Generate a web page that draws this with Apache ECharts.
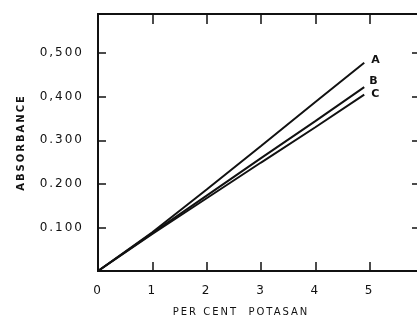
<!DOCTYPE html>
<html lang="en">
<head>
<meta charset="UTF-8">
<title>Absorbance vs Per Cent Potasan</title>
<script src="https://cdn.jsdelivr.net/npm/echarts@6/dist/echarts.min.js"></script>
<style>
    html, body { margin: 0; padding: 0; background: #fff; }
    #chart { width: 417px; height: 323px; }
</style>
</head>
<body>
<div id="chart"></div>
<script>
    // data
    const xValues = [0, 1, 2, 3, 4, 4.9];
    const curveA = [0, 0.089, 0.187, 0.287, 0.388, 0.478];
    const curveB = [0, 0.087, 0.173, 0.259, 0.344, 0.422];
    const curveC = [0, 0.085, 0.167, 0.249, 0.330, 0.405];
    const seriesNames = ['A', 'B', 'C'];

    const xTickValues = [0, 1, 2, 3, 4, 5];
    const xTickLabels = ['0', '1', '2', '3', '4', '5'];
    const yTickValues = [0.1, 0.2, 0.3, 0.4, 0.5];
    const yTickLabels = ['0.100', '0.200', '0.300', '0,400', '0,500'];

    // the lettering on the original is widely spaced; canvas can do that itself
    const origFillText = CanvasRenderingContext2D.prototype.fillText;
    CanvasRenderingContext2D.prototype.fillText = function () {
        this.letterSpacing = '2px';
        return origFillText.apply(this, arguments);
    };

    function pickLabel(values, labels, v) {
        const i = values.findIndex((t) => Math.abs(t - v) < 1e-6);
        return i < 0 ? '' : labels[i];
    }

    function pairs(ys) {
        return xValues.map((x, i) => [x, ys[i]]);
    }

    const ink = '#111';
    const font = 'DejaVu Sans';
    const xMax = 6;
    const yMax = 0.59;
    const plotW = 326;
    const plotH = 257;

    /**
     * Top / right frame axis with ticks.
     * inside=true  -> ticks point into the plot from the top / right edge
     * inside=false + offset -> the axis is slid over to the opposite edge and its
     * outward ticks then point into the plot from the bottom / left
     * (bottom / left axes would not draw inward ticks here)
     */
    function frameAxis(position, max, interval, len, offset) {
        return {
            type: 'value', min: 0, max: max, interval: interval, position: position,
            offset: offset || 0,
            axisLine: {show: true, onZero: false, lineStyle: {color: ink, width: 2}},
            axisTick: {show: true, inside: !offset, length: len, lineStyle: {color: ink, width: 1.5}},
            axisLabel: {show: false},
            splitLine: {show: false}
        };
    }

    const endOffsets = [[2, -3], [0, -6], [2, 0]];
    const series = [curveA, curveB, curveC].map((ys, i) => ({
        name: seriesNames[i],
        type: 'line',
        data: pairs(ys),
        showSymbol: false,
        symbol: 'none',
        lineStyle: {color: ink, width: 2},
        endLabel: {
            show: true,
            formatter: '{a}',
            color: ink,
            fontFamily: font,
            fontWeight: 'bold',
            fontSize: 11,
            distance: 5,
            offset: endOffsets[i]
        }
    }));

    const myChart = echarts.init(document.getElementById('chart'));
    myChart.setOption({
        animation: false,
        grid: {left: 98, top: 14, width: plotW, height: plotH, outerBoundsMode: 'none', containLabel: false},
        xAxis: [
            {
                type: 'value', min: 0, max: xMax, interval: 1, position: 'bottom',
                name: 'PER CENT  POTASAN', nameLocation: 'middle', nameGap: 36,
                nameTextStyle: {color: ink, fontFamily: font, fontSize: 10, padding: [0, 40, 0, 0]},
                axisLine: {onZero: false, lineStyle: {color: ink, width: 2}},
                axisTick: {show: false},
                axisLabel: {
                    color: ink, fontFamily: font, fontSize: 12, margin: 14,
                    formatter: (v) => pickLabel(xTickValues, xTickLabels, v)
                },
                splitLine: {show: false}
            },
            frameAxis('top', xMax, 1, 10),
            frameAxis('top', xMax, 1, 9, -plotH)
        ],
        yAxis: [
            {
                type: 'value', min: 0, max: yMax, interval: 0.1, position: 'left',
                name: 'ABSORBANCE', nameLocation: 'middle', nameGap: 72, nameRotate: 90,
                nameTextStyle: {color: ink, fontFamily: font, fontSize: 10, fontWeight: 'bold'},
                axisLine: {show: true, onZero: false, lineStyle: {color: ink, width: 2}},
                axisTick: {show: false},
                axisLabel: {
                    color: ink, fontFamily: font, fontSize: 12, margin: 14,
                    formatter: (v) => pickLabel(yTickValues, yTickLabels, v)
                },
                splitLine: {show: false}
            },
            frameAxis('right', yMax, 0.1, 12),
            frameAxis('right', yMax, 0.1, 8, -plotW)
        ],
        series: series
    });
</script>
</body>
</html>
